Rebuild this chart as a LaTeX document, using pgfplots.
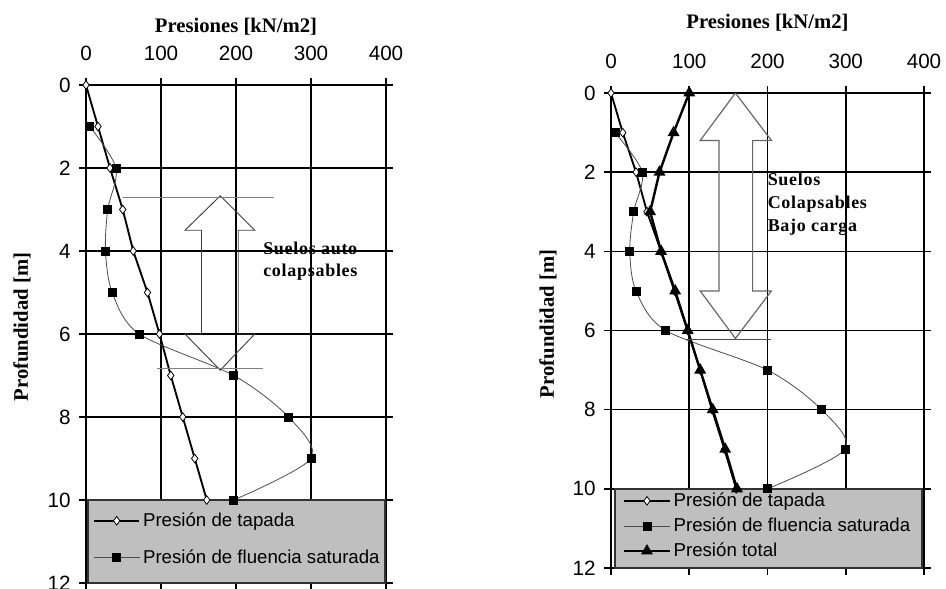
\documentclass[border=0pt]{standalone}
\usepackage{fontspec}
\setmainfont{Liberation Serif}
\setsansfont{Liberation Sans}
\newfontfamily\annfont[LetterSpace=4]{Liberation Serif}
\usepackage{pgfplots}
\pgfplotsset{compat=1.18}

\tikzset{ann/.style={font=\annfont\bfseries\fontsize{13.5}{16}\selectfont, inner sep=0pt, anchor=mid west}}
\pgfplotsset{
 panel/.style={
  scale only axis,
  xmin=0,xmax=400,ymin=0,ymax=12,
  y dir=reverse,
  xtick={0,100,200,300,400},
  ytick={0,2,4,6,8,10,12},
  xticklabel pos=upper,
  grid=major,
  major grid style={black, line width=1.2pt},
  axis line style={black, line width=1.2pt},
  tick style={black, line width=1.2pt},
  tick align=outside,
  major tick length=5pt,
  /pgf/number format/assume math mode=true,
  ticklabel style={font=\sffamily\fontsize{15.5}{18}\selectfont},
  xticklabel style={yshift=10pt},
  yticklabel style={xshift=-3pt},
  xlabel={Presiones [kN/m2]},
  ylabel={Profundidad [m]},
  label style={font=\bfseries\fontsize{15.5}{18}\selectfont},
  legend cell align=left,
  legend style={draw=none, fill=none, font=\sffamily\fontsize{14}{16}\selectfont, inner sep=0pt, anchor=north west},
  legend image code/.code={\draw[mark repeat=2,mark phase=2] plot coordinates {(0cm,0cm) (0.6cm,0cm) (1.2cm,0cm)};},
 },
 tap/.style={black, line width=1.4pt, mark=diamond*, mark options={fill=white, draw=black, line width=0.6pt}, mark size=3.2pt},
 sat/.style={gray!60!black, line width=0.6pt, smooth, mark=square*, mark options={fill=black, draw=black}, mark size=3pt},
 tot/.style={black, line width=1.8pt, mark=triangle*, mark options={fill=black}, mark size=3.4pt},
}

\pgfplotstableread{
x y
0 0
16 1
32 2
49 3
63 4
82 5
98 6
113 7
129 8
145 9
161 10
}\tapL
\pgfplotstableread{
x y
5 1
40 2
29 3
26 4
35 5
71 6
197 7
270 8
300 9
197 10
}\satL
\pgfplotstableread{
x y
0 0
15 1
32 2
46 3
64 4
81 5
98 6
114 7
129 8
145 9
160 10
}\tapR
\pgfplotstableread{
x y
5 1
40 2
29 3
24 4
32 5
70 6
200 7
269 8
299 9
200 10
}\satR
\pgfplotstableread{
x y
100 0
80 1
62 2
50 3
64 4
82 5
98 6
114 7
130 8
146 9
161 10
}\totR

\begin{document}
\begin{tikzpicture}
\path[use as bounding box] (0,0) rectangle (709.5pt,-441.75pt);

% ---------- left panel ----------
\begin{axis}[panel,
  at={(64.5pt,-63.75pt)}, anchor=north west,
  width=225pt, height=373.5pt,
  xlabel style={at={(axis description cs:0.5,1)}, anchor=center, yshift=43.5pt},
  ylabel style={at={(axis description cs:-0.2133,0.514)}, anchor=center},
  legend style={at={(axis cs:9,10.24)}, row sep=12pt},
]
\addplot[tap] table {\tapL};
\addlegendentry{Presión de tapada}
\addplot[sat] table {\satL};
\addlegendentry{Presión de fluencia saturada}
\draw[black!75, line width=0.7pt] (axis cs:179,2.67) -- (axis cs:225,3.5) -- (axis cs:203,3.5) -- (axis cs:203,6.0) -- (axis cs:225,6.0) -- (axis cs:179,6.87) -- (axis cs:132,6.0) -- (axis cs:154,6.0) -- (axis cs:154,3.5) -- (axis cs:132,3.5) -- cycle;
\draw[gray, line width=0.8pt] (axis cs:49,2.72) -- (axis cs:250,2.72);
\draw[gray, line width=0.8pt] (axis cs:95,6.82) -- (axis cs:236,6.82);
\node[ann] at (axis cs:236,4.0) {Suelos auto};
\node[ann] at (axis cs:236,4.53) {colapsables};
\draw[fill=gray!50, draw=black!80, line width=1.5pt] (axis cs:3,10) rectangle (axis cs:399,12);
\end{axis}

% ---------- right panel ----------
\begin{axis}[panel,
  at={(458.25pt,-69.75pt)}, anchor=north west,
  width=234.75pt, height=356.25pt,
  xlabel style={at={(axis description cs:0.5,1)}, anchor=center, yshift=52.5pt},
  ylabel style={at={(axis description cs:-0.2013,0.514)}, anchor=center},
  legend style={at={(axis cs:15,10.03)}, row sep=3pt},
]
\addplot[tap] table {\tapR};
\addlegendentry{Presión de tapada}
\addplot[sat] table {\satR};
\addlegendentry{Presión de fluencia saturada}
\addplot[tot] table {\totR};
\addlegendentry{Presión total}
\draw[gray!80!black, line width=0.9pt] (axis cs:159,0) -- (axis cs:205,1.2) -- (axis cs:181,1.2) -- (axis cs:181,5.0) -- (axis cs:205,5.0) -- (axis cs:159,6.2) -- (axis cs:114,5.0) -- (axis cs:138,5.0) -- (axis cs:138,1.2) -- (axis cs:114,1.2) -- cycle;
\draw[black!70, line width=0.8pt] (axis cs:96,6.22) -- (axis cs:205,6.22);
\node[ann] at (axis cs:200,2.27) {Suelos};
\node[ann] at (axis cs:200,2.85) {Colapsables};
\node[ann] at (axis cs:200,3.42) {Bajo carga};
\draw[fill=gray!50, draw=black!80, line width=1.5pt] (axis cs:5,10) rectangle (axis cs:397,12);
\end{axis}
\end{tikzpicture}
\end{document}
